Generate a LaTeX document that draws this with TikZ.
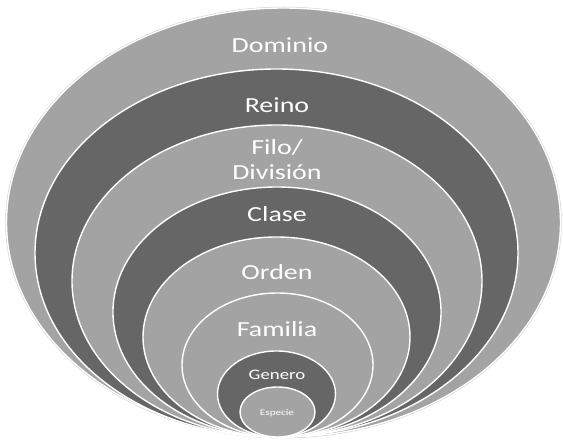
\documentclass[tikz,border=0pt]{standalone}
\usepackage{fontspec}
\setmainfont{Carlito}
\usepackage{tikz}
\usetikzlibrary{positioning}
\definecolor{lightgr}{gray}{0.64}
\definecolor{darkgr}{gray}{0.40}
\tikzset{ring/.style = {draw = white, line width = 1.4pt}}
\tikzset{lightring/.style = {ring, fill = lightgr}}
\tikzset{darkring/.style = {ring, fill = darkgr}}
\tikzset{lbl/.style = {text = white, anchor = base, xscale = 1.3, inner sep = 0,
                       font = \fontsize{21.5}{25}\selectfont, align = center}}

\begin{document}
\begin{tikzpicture}[x = 1pt, y = -1pt]
      \useasboundingbox (0, 0) rectangle (563, 443);

      % rings, outside in
      \draw [gray!35, line width = 2.5pt] (283.5, 222.5) ellipse (277 and 214.5);
      \draw [lightring] (283.5, 222.5) ellipse (277 and 214.5);
      \draw [darkring] (276.5, 253) ellipse (241.5 and 184);
      \draw [lightring] (277, 281) ellipse (205 and 156);
      \draw [darkring] (277, 312) ellipse (164 and 125);
      \draw [lightring] (276.5, 337) ellipse (133.5 and 100);
      \draw [lightring] (277.5, 365) ellipse (95.5 and 72);
      \draw [darkring] (276.5, 394) ellipse (59 and 43);
      \draw [lightring] (277.5, 412) ellipse (37.5 and 25);

      % labels
      \node [lbl] (dominio) at (280, 53) {Dominio};
      \node [lbl] (reino) at (277, 113) {Reino};
      \node [lbl] (filo) at (277, 180) {Filo/\\División};
      \node [lbl] (clase) at (277, 222) {Clase};
      \node [lbl] (orden) at (277, 280) {Orden};
      \node [lbl] (familia) at (277, 337) {Familia};
      \node [lbl, font = \fontsize{14.5}{17}\selectfont] (genero) at (277, 380) {Genero};
      \node [lbl, font = \fontsize{8.6}{10}\selectfont] (especie) at (277, 416) {Especie};
    \end{tikzpicture}
\end{document}
